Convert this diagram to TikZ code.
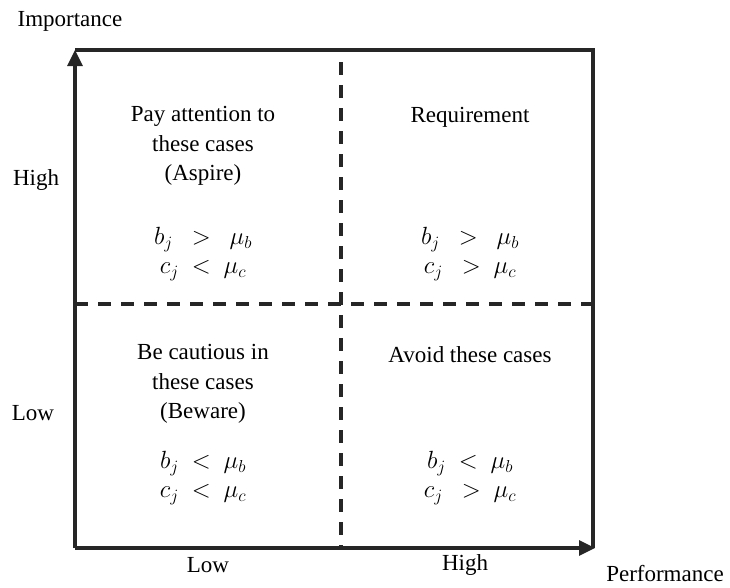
\documentclass[tikz,border=0pt]{standalone}
\usepackage{fontspec}
\setmainfont{Liberation Serif}
\usetikzlibrary{arrows.meta}
\begin{document}
\begin{tikzpicture}[x=1pt,y=-1pt,
  lbl/.style={font=\fontsize{23}{29.5}\selectfont, inner sep=0pt, align=center},
  mth/.style={font=\fontsize{24}{28.5}\selectfont, inner sep=0pt, align=center},
  axis/.style={line width=3.2pt, draw=black!85, -{Triangle[length=16pt,width=15pt]}},
  frame/.style={line width=3.2pt, draw=black!85},
  divider/.style={line width=3.2pt, draw=black!85, dash pattern=on 13pt off 10pt}]
\useasboundingbox (0,0) rectangle (730,587);
% corners
\coordinate (o) at (75,548);
\coordinate (tl) at (75,50);
\coordinate (tr) at (593,50);
\coordinate (br) at (593,548);
\coordinate (xe) at (595,548);
\coordinate (vt) at (341,62);
\coordinate (vb) at (341,548);
\coordinate (hl) at (75,304);
\coordinate (hr) at (593,304);
% frame and axes
\draw[frame] (tl) -- (tr) -- (br);
\draw[axis] (o) -- (tl);
\draw[axis] (o) -- (xe);
\draw[divider] (vt) -- (vb);
\draw[divider] (hl) -- (hr);
% axis labels
\node[lbl] (imp) at (70,21) {Importance};
\node[lbl] (perf) at (665,574) {Performance};
\node[lbl] (yhigh) at (36,180) {High};
\node[lbl] (ylow) at (33,413) {Low};
\node[lbl] (xlow) at (208,565) {Low};
\node[lbl] (xhigh) at (465,565) {High};
% quadrant texts
\node[lbl] (q1) at (203,146) {Pay attention to\\these cases\\(Aspire)};
\node[lbl] (q2) at (470,117) {Requirement};
\node[lbl] (q3) at (203,384) {Be cautious in\\these cases\\(Beware)};
\node[lbl] (q4) at (470,355) {Avoid these cases};
% conditions
\node[mth] (m1) at (203,254) {$b_j\ \ >\ \ \mu_b$\\$c_j\ <\ \mu_c$};
\node[mth] (m2) at (470,254) {$b_j\ \ >\ \ \mu_b$\\$c_j\ \ >\ \mu_c$};
\node[mth] (m3) at (203,478) {$b_j\ <\ \mu_b$\\$c_j\ <\ \mu_c$};
\node[mth] (m4) at (470,478) {$b_j\ <\ \mu_b$\\$c_j\ \ >\ \mu_c$};
\end{tikzpicture}
\end{document}
